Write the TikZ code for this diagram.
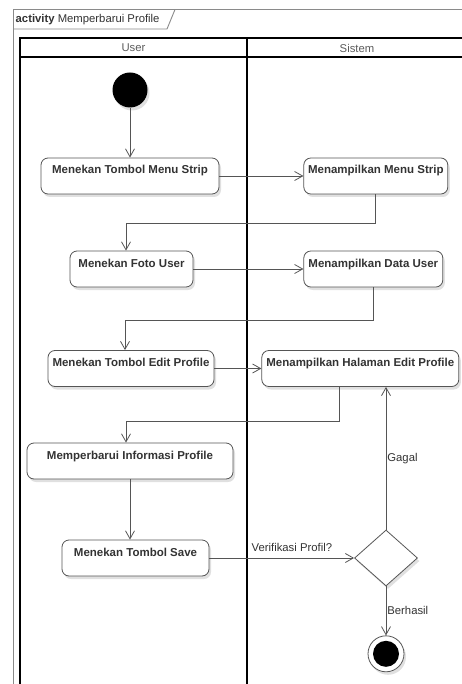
\documentclass[tikz,border=0pt]{standalone}
\usepackage{fontspec}
\setmainfont{Liberation Sans}
\usepackage{tikz}
\usetikzlibrary{shapes,arrows.meta,positioning,shadows}
\usepackage{xcolor}
\definecolor{linegray}{HTML}{555555}
\definecolor{textgray}{HTML}{333333}
\definecolor{framegray}{HTML}{8A8A8A}

\begin{document}
\begin{tikzpicture}[x=1pt, y=-1pt,
    action/.style={rectangle, rounded corners=7pt, draw=linegray, line width=0.8pt, fill=white, text=textgray,
      font=\fontsize{11.5}{13}\selectfont\bfseries, inner xsep=2pt, inner ysep=3pt, text height=13pt, text depth=17pt,
      drop shadow={shadow xshift=2pt, shadow yshift=-3pt, opacity=.12, fill=black}},
    start/.style={circle, fill=black, minimum size=35pt, inner sep=0pt,
      drop shadow={shadow xshift=2pt, shadow yshift=-3pt, opacity=.12, fill=black}},
    final/.style={circle, draw=linegray, line width=0.8pt, fill=white, minimum size=36pt, inner sep=0pt,
      drop shadow={shadow xshift=2pt, shadow yshift=-3pt, opacity=.12, fill=black}},
    finaldot/.style={circle, fill=black, minimum size=26pt, inner sep=0pt},
    decision/.style={diamond, draw=linegray, line width=0.8pt, fill=white, minimum width=63pt, minimum height=56pt, inner sep=0pt,
      drop shadow={shadow xshift=2pt, shadow yshift=-3pt, opacity=.12, fill=black}},
    flow/.style={-{Straight Barb[length=8pt, width=9pt]}, draw=linegray, line width=0.8pt},
    guard/.style={text=textgray, font=\fontsize{11.3}{13}\selectfont},
    lanehead/.style={text=textgray!80, font=\fontsize{11.3}{13}\selectfont},
    lane/.style={black, line width=1.6pt}
  ]
    \path[use as bounding box] (0,0) rectangle (462,684);
    \clip (0,0) rectangle (462,684);
    \fill[white] (0,0) rectangle (462,684);

    \draw[framegray, line width=0.9pt] (13,700) -- (13,9.5) -- (470,9.5);
    \draw[framegray, line width=0.9pt] (13,29) -- (167,29) -- (175,9.5);
    \node[anchor=base west, guard, inner sep=0pt] (judul) at (15.5,22.7) {\textbf{activity} Memperbarui Profile};

    \draw[lane] (20,700) -- (20,38) -- (470,38);
    \draw[lane] (20,57) -- (470,57);
    \draw[lane] (247,38) -- (247,700);
    \node[lanehead] (laneuser) at (133.5,48) {User};
    \node[lanehead] (lanesistem) at (357,48) {Sistem};

    \node[start] (init) at (130,90) {};
    \node[action, minimum width=178pt] (tekanmenu) at (130,176) {Menekan Tombol Menu Strip};
    \node[action, minimum width=144pt, right=84pt of tekanmenu] (tampilmenu) {Menampilkan Menu Strip};
    \node[action, minimum width=123pt] (tekanfoto) at (131.5,269) {Menekan Foto User};
    \node[action, minimum width=139pt, right=110pt of tekanfoto] (tampildata) {Menampilkan Data User};
    \node[action, minimum width=166pt] (tekanedit) at (131,368.5) {Menekan Tombol Edit Profile};
    \node[action, minimum width=197pt, right=47pt of tekanedit] (tampiledit) {Menampilkan Halaman Edit Profile};
    \node[action, minimum width=206pt] (perbarui) at (130,461) {Memperbarui Informasi Profile};
    \node[action, minimum width=147pt] (tekansave) at (135.5,558) {Menekan Tombol Save};
    \node[decision] (verif) at (386,558) {};
    \node[final, below=49pt of verif] (akhir) {};
    \node[finaldot] (akhirdot) at (akhir) {};

    \coordinate (belok1) at (126,223);
    \coordinate (belok2) at (125,320);
    \coordinate (belok3) at (126,421);

    \draw[flow] (init) -- (tekanmenu);
    \draw[flow] (tekanmenu) -- (tampilmenu);
    \draw[flow] (tampilmenu.south) |- (belok1) -- (belok1 |- tekanfoto.north);
    \draw[flow] (tekanfoto) -- (tampildata);
    \draw[flow] (tampildata.south) |- (belok2) -- (belok2 |- tekanedit.north);
    \draw[flow] (tekanedit) -- (tampiledit);
    \draw[flow] ([xshift=-20.5pt]tampiledit.south) |- (belok3) -- (belok3 |- perbarui.north);
    \draw[flow] (perbarui.south) -- (perbarui.south |- tekansave.north);
    \draw[flow] (tekansave) -- node[guard, above=3pt, pos=0.57] {Verifikasi Profil?} (verif);
    \draw[flow] (verif.north) -- node[guard, right, inner sep=1pt] {Gagal} (verif.north |- tampiledit.south);
    \draw[flow] (verif) -- node[guard, right, inner sep=1pt] {Berhasil} (akhir);
  \end{tikzpicture}
\end{document}
